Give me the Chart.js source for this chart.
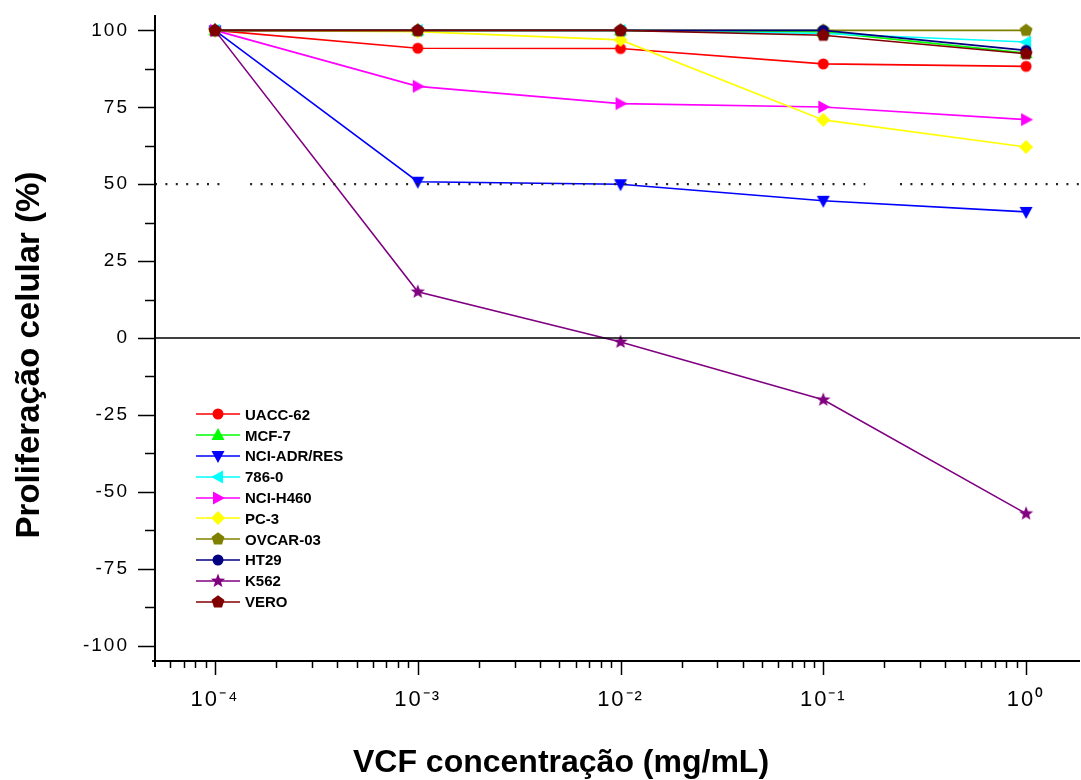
<!DOCTYPE html>
<html>
<head>
<meta charset="utf-8">
<script src="https://cdn.jsdelivr.net/npm/chart.js@4.4.1/dist/chart.umd.min.js"></script>
<style>
    html, body { margin: 0; padding: 0; background: #fff; }
    #wrap { position: relative; width: 1081px; height: 780px; }
    #legend { position: absolute; left: 196px; top: 404px; font: bold 15px "Liberation Sans", Arial, sans-serif; color: #000; }
    .row { height: 20.8px; display: flex; align-items: center; }
    .row canvas { margin-right: 5px; }
</style>
</head>
<body>
<div id="wrap">
    <canvas id="myChart" width="1081" height="780"></canvas>
    <div id="legend"></div>
</div>
<script>
// concentracoes (mg/mL) e rotulos do eixo x
const concentrations = [1e-4, 1e-3, 1e-2, 1e-1, 1];
const xTickLabels = ['10⁻⁴', '10⁻³', '10⁻²', '10⁻¹', '10⁰'];
const yTickValues = [-100, -75, -50, -25, 0, 25, 50, 75, 100];

const cellLines = ['UACC-62', 'MCF-7', 'NCI-ADR/RES', '786-0', 'NCI-H460', 'PC-3', 'OVCAR-03', 'HT29', 'K562', 'VERO'];

const uacc62  = [100, 94.2, 94.1, 89.1, 88.3];
const mcf7    = [100, 100, 100, 99.5, 92.6];
const nciAdr  = [100, 50.8, 50.0, 44.6, 41.0];
const c7860   = [100, 100, 100, 99.0, 96.2];
const nciH460 = [100, 81.8, 76.2, 75.1, 71.0];
const pc3     = [100, 99.6, 96.9, 70.9, 62.1];
const ovcar03 = [100, 100, 100, 100, 100];
const ht29    = [100, 100, 100, 100, 93.5];
const k562    = [100, 15.0, -1.3, -20.1, -57.1];
const vero    = [100, 100, 100, 98.4, 92.4];

const values = [uacc62, mcf7, nciAdr, c7860, nciH460, pc3, ovcar03, ht29, k562, vero];
const colors = ['#ff0000', '#00ff00', '#0000ff', '#00ffff', '#ff00ff', '#ffff00', '#808000', '#000080', '#800080', '#800000'];
const shapes = ['circle', 'triUp', 'triDown', 'triLeft', 'triRight', 'diamond', 'pentagon', 'circle', 'star', 'pentagon'];

const X_MIN = 5.06e-5, X_MAX = 1.845;
// linha pontilhada em 50% (com as falhas do original)
const refX = [X_MIN, 1.12e-4, 1.3e-4, 1.49e-4, 0.161, 0.2, 0.239, X_MAX];
const refY = [50, 50, null, 50, 50, null, 50, 50];

function polygon(g, pts) {
    g.moveTo(pts[0][0], pts[0][1]);
    for (let i = 1; i < pts.length; i++) g.lineTo(pts[i][0], pts[i][1]);
    g.closePath();
}

function makeMarker(shape, color, withLine) {
    const w = withLine ? 44 : 16, h = 16;
    const c = document.createElement('canvas');
    c.width = w; c.height = h;
    const g = c.getContext('2d');
    const cx = w / 2, cy = h / 2;
    if (withLine) {
        g.strokeStyle = color; g.lineWidth = 1.6;
        g.beginPath(); g.moveTo(0, cy); g.lineTo(w, cy); g.stroke();
    }
    g.fillStyle = color;
    g.beginPath();
    if (shape == 'circle') g.arc(cx, cy, 5.5, 0, Math.PI * 2);
    if (shape == 'triUp') polygon(g, [[cx, cy - 7], [cx + 6.5, cy + 5], [cx - 6.5, cy + 5]]);
    if (shape == 'triDown') polygon(g, [[cx, cy + 7], [cx + 6.5, cy - 5], [cx - 6.5, cy - 5]]);
    if (shape == 'triLeft') polygon(g, [[cx - 7, cy], [cx + 5, cy - 6.5], [cx + 5, cy + 6.5]]);
    if (shape == 'triRight') polygon(g, [[cx + 7, cy], [cx - 5, cy - 6.5], [cx - 5, cy + 6.5]]);
    if (shape == 'diamond') polygon(g, [[cx, cy - 7], [cx + 7, cy], [cx, cy + 7], [cx - 7, cy]]);
    if (shape == 'pentagon' || shape == 'star') {
        const pts = [];
        const n = shape == 'star' ? 10 : 5;
        for (let i = 0; i < n; i++) {
            const a = -Math.PI / 2 + i * 2 * Math.PI / n;
            const r = shape == 'star' ? (i % 2 ? 3.2 : 7.5) : 6.8;
            pts.push([cx + r * Math.cos(a), cy + r * Math.sin(a)]);
        }
        polygon(g, pts);
    }
    g.fill();
    return c;
}

// legenda
const legend = document.getElementById('legend');
cellLines.forEach(function (name, i) {
    const row = document.createElement('div');
    row.className = 'row';
    row.appendChild(makeMarker(shapes[i], colors[i], true));
    const span = document.createElement('span');
    span.textContent = name;
    row.appendChild(span);
    legend.appendChild(row);
});

const datasets = cellLines.map(function (name, i) {
    return {
        label: name,
        data: concentrations.map((c, j) => ({ x: c, y: values[i][j] })),
        borderColor: colors[i],
        backgroundColor: colors[i],
        borderWidth: 1.6,
        pointStyle: makeMarker(shapes[i], colors[i], false),
        order: 10 - i
    };
});

datasets.push({
    label: 'zero',
    data: [{ x: X_MIN, y: 0 }, { x: X_MAX, y: 0 }],
    borderColor: '#000', borderWidth: 1.5, pointRadius: 0, order: -1
});
datasets.push({
    label: 'ref50',
    data: refX.map((v, i) => ({ x: v, y: refY[i] })),
    borderColor: '#222', borderWidth: 2.2, borderDash: [2, 8.4], pointRadius: 0, spanGaps: false, order: -2
});

const axisPlugin = {
    id: 'axisLines',
    beforeDraw(chart) {
        chart.ctx.letterSpacing = '2px';
    },
    afterDraw(chart) {
        const { ctx, chartArea: a, scales: { x, y } } = chart;
        ctx.save();
        ctx.letterSpacing = '0px';
        ctx.strokeStyle = '#000';
        ctx.lineWidth = 2;
        ctx.beginPath();
        ctx.moveTo(a.left, a.top); ctx.lineTo(a.left, a.bottom + 6);
        ctx.moveTo(a.left - 3, a.bottom); ctx.lineTo(a.right, a.bottom);
        ctx.stroke();

        ctx.lineWidth = 1.5;
        ctx.beginPath();
        for (let v = -100; v <= 100; v += 12.5) {
            const py = Math.round(y.getPixelForValue(v)) + 0.5;
            const len = v % 25 === 0 ? 17 : 10;
            ctx.moveTo(a.left - len, py); ctx.lineTo(a.left, py);
        }
        for (let e = -5; e <= 0; e++) {
            for (let m = 1; m <= 9; m++) {
                const v = m * Math.pow(10, e);
                if (v < x.min || v > x.max) continue;
                const px = Math.round(x.getPixelForValue(v)) + 0.5;
                const len = m === 1 ? 14 : 7;
                ctx.moveTo(px, a.bottom); ctx.lineTo(px, a.bottom + len);
            }
        }
        ctx.stroke();

        // titulos dos eixos
        ctx.fillStyle = '#000';
        ctx.textAlign = 'center';
        ctx.textBaseline = 'alphabetic';
        ctx.font = 'bold 32px "Liberation Sans", Arial, sans-serif';
        ctx.fillText('VCF concentração (mg/mL)', 561, 772);
        ctx.translate(39, 355);
        ctx.rotate(-Math.PI / 2);
        ctx.font = 'bold 33px "Liberation Sans", Arial, sans-serif';
        ctx.fillText('Proliferação celular (%)', 0, 0);
        ctx.restore();
    }
};

const ctx = document.getElementById('myChart');
const myChart = new Chart(ctx, {
    type: 'line',
    data: { datasets: datasets },
    options: {
        responsive: false,
        animation: false,
        layout: { autoPadding: false, padding: { top: 15, right: 1, left: 0, bottom: 0 } },
        plugins: { legend: { display: false }, tooltip: { enabled: false } },
        scales: {
            x: {
                type: 'logarithmic',
                min: X_MIN,
                max: X_MAX,
                grid: { display: false, drawTicks: false },
                border: { display: false },
                afterBuildTicks: function (scale) {
                    scale.ticks = concentrations.map(v => ({ value: v }));
                },
                afterFit: function (scale) {
                    scale.height = 119;
                    scale.paddingLeft = 0;
                    scale.paddingRight = 0;
                },
                ticks: {
                    autoSkip: false,
                    maxRotation: 0,
                    padding: 26,
                    color: '#000',
                    font: { family: '"Liberation Sans", Arial, sans-serif', size: 22 },
                    callback: function (value) {
                        const i = concentrations.indexOf(value);
                        return i >= 0 ? xTickLabels[i] : '';
                    }
                }
            },
            y: {
                min: -105,
                max: 105,
                grid: { display: false, drawTicks: false },
                border: { display: false },
                afterBuildTicks: function (scale) {
                    scale.ticks = yTickValues.map(v => ({ value: v }));
                },
                afterFit: function (scale) {
                    scale.width = 155;
                    scale.paddingTop = 0;
                    scale.paddingBottom = 0;
                },
                ticks: {
                    padding: 26,
                    color: '#000',
                    font: { family: '"Liberation Sans", Arial, sans-serif', size: 19 }
                }
            }
        }
    },
    plugins: [axisPlugin]
});
</script>
</body>
</html>
